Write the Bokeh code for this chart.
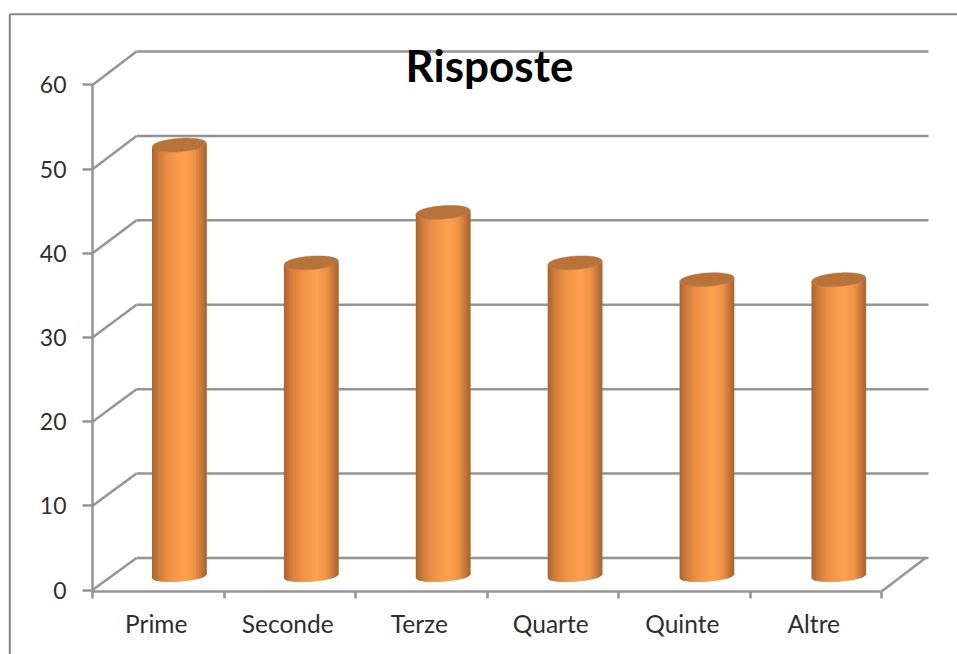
from bokeh.plotting import figure
from bokeh.models import FixedTicker, Label, Range1d
from bokeh.embed import file_html
from bokeh.resources import INLINE
import math

categories = ["Prime", "Seconde", "Terze", "Quarte", "Quinte", "Altre"]
values = [51, 37, 43, 37, 35, 35]
y_ticks = [0, 10, 20, 30, 40, 50, 60]
title_text = "Risposte"

GREY = "#959595"
TXT = "#2e2e2e"
FONT = "Lato"
W, H = 957, 654
X0, Y0 = 92, 589.5   # canvas position of category edge 0 and value 0

PX_X = 131.5     # px per category
PX_Y = 8.417     # px per value unit
DEPTH_X = 44 / PX_X
DEPTH_Y = 32 / PX_Y
BACK_SCALE = 1.003
BAR_STEP = 1.003
floor_y = -1.5 / PX_Y

def cx(px):
    return (px - X0) / PX_X

def cy(px):
    return (Y0 - px) / PX_Y

p = figure(width=W, height=H, output_backend="svg", toolbar_location=None,
           x_range=Range1d(cx(0), cx(W)), y_range=Range1d(cy(H), cy(0)),
           min_border_left=0, min_border_right=0, min_border_top=0, min_border_bottom=0,
           outline_line_color=None, background_fill_color="white", border_fill_color="white")
p.grid.visible = False

# chart border (left and top edges)
p.segment([cx(9.3), cx(9.3)], [cy(13.7), cy(13.7)], [cx(W), cx(9.3)], [cy(13.7), cy(H)],
          line_color="#868686", line_width=2)

# axes
ya = p.yaxis[0]
ya.fixed_location = 0
ya.ticker = FixedTicker(ticks=y_ticks)
ya.bounds = (floor_y, 60)
ya.axis_line_color = GREY
ya.axis_line_width = 2.5
ya.major_tick_line_color = GREY
ya.major_tick_line_width = 2.5
ya.major_tick_in = 0
ya.major_tick_out = 10
ya.minor_tick_line_color = None
ya.major_label_text_font = FONT
ya.major_label_text_font_size = "23px"
ya.major_label_text_color = TXT
ya.major_label_standoff = 16

xa = p.xaxis[0]
xa.fixed_location = floor_y
label_pos = [i + 0.485 for i in range(len(categories))]
xa.ticker = FixedTicker(ticks=label_pos, minor_ticks=list(range(len(categories) + 1)))
xa.major_label_overrides = {pos: c for pos, c in zip(label_pos, categories)}
xa.bounds = (0, len(categories))
xa.axis_line_color = GREY
xa.axis_line_width = 2.5
xa.major_tick_line_color = None
xa.major_tick_in = 0
xa.major_tick_out = 7
xa.minor_tick_line_color = GREY
xa.minor_tick_line_width = 2.5
xa.minor_tick_in = 0
xa.minor_tick_out = 7
xa.major_label_text_font = FONT
xa.major_label_text_font_size = "24.5px"
xa.major_label_text_color = TXT
xa.major_label_standoff = 10

# walls
def back(v):
    return DEPTH_Y + v * BACK_SCALE

p.segment([DEPTH_X] * len(y_ticks), [back(v) for v in y_ticks],
          [DEPTH_X + (928 - 136) / PX_X] * len(y_ticks), [back(v) for v in y_ticks],
          line_color=GREY, line_width=2.5)
p.segment([0] * len(y_ticks), y_ticks, [DEPTH_X] * len(y_ticks), [back(v) for v in y_ticks],
          line_color=GREY, line_width=2.5)
p.segment([len(categories)], [floor_y], [len(categories) + DEPTH_X], [back(0)],
          line_color=GREY, line_width=2.5)

# cylinders
STOPS = [(0.0, (0xa8, 0x63, 0x2e)), (0.12, (0xcc, 0x7b, 0x3a)), (0.3, (0xee, 0x90, 0x45)),
         (0.6, (0xff, 0xa1, 0x50)), (0.78, (0xf0, 0x92, 0x47)), (0.92, (0xc0, 0x75, 0x38)),
         (1.0, (0xa8, 0x63, 0x2e))]
CAP = "#b8733a"

def shade(t):
    for (a, ca), (b, cb) in zip(STOPS, STOPS[1:]):
        if t <= b:
            f = (t - a) / (b - a)
            return "#%02x%02x%02x" % tuple(round(x + (y - x) * f) for x, y in zip(ca, cb))
    return "#a8632e"

HALF_W = 27.3 / PX_X
RY = 6.7 / PX_Y
BASE_RY = 5.0 / PX_Y
TILT = 1.9 / PX_Y
TOP_OFF = 15.7 / PX_Y
BASE_OFF = 13.5 / PX_Y
N = 36

def arc(t, c, sign, ry=RY):
    return c + TILT * t + sign * ry * math.sqrt(max(0.0, 1 - t * t))

xs, ys, cols = [], [], []
cap_xs, cap_ys = [], []
for i, v in enumerate(values):
    c = i * BAR_STEP + 0.66
    top = v + TOP_OFF
    for k in range(N):
        t0, t1 = -1 + 2 * k / N, min(1.0, -1 + 2 * (k + 2) / N)
        xs.append([c + HALF_W * t0, c + HALF_W * t1, c + HALF_W * t1, c + HALF_W * t0])
        ys.append([arc(t0, BASE_OFF, -1, BASE_RY), arc(t1, BASE_OFF, -1, BASE_RY),
                   arc(t1, top, -1), arc(t0, top, -1)])
        cols.append(shade((k + 0.5) / N))
    ts = [-1 + 2 * k / 40 for k in range(41)]
    cap_xs.append([c + HALF_W * t for t in ts] + [c + HALF_W * t for t in reversed(ts)])
    cap_ys.append([arc(t, top, -1) for t in ts] + [arc(t, top, 1) for t in reversed(ts)])

p.patches(xs, ys, fill_color=cols, line_color=None)
p.patches(cap_xs, cap_ys, fill_color=CAP, line_color=CAP, line_width=0.5)

# title
p.add_layout(Label(x=cx(489), y=cy(64), text=title_text,
                   text_font=FONT, text_font_style="bold", text_font_size="44px",
                   text_color="black", text_align="center", text_baseline="middle"))

open("out.html", "w").write(file_html(p, INLINE))
